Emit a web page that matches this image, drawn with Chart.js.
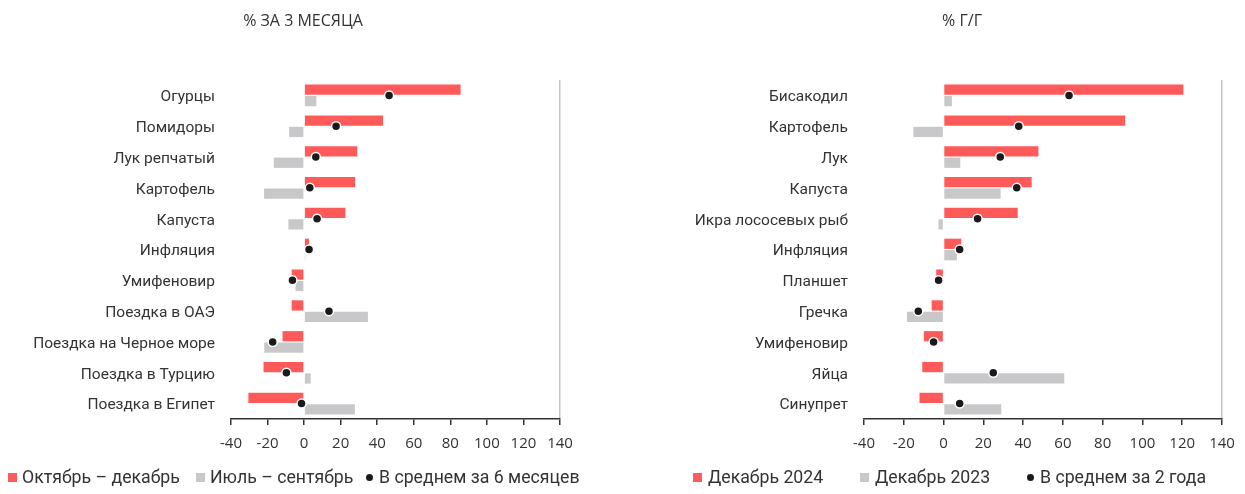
<!DOCTYPE html>
<html>
<head>
<meta charset="utf-8">
<script src="https://cdn.jsdelivr.net/npm/chart.js@4.4.1/dist/chart.umd.min.js"></script>
<style>
  html, body { margin: 0; padding: 0; background: #fff; }
  #wrap { position: relative; width: 1245px; height: 494px; overflow: hidden; }
  .panel { position: absolute; top: 0; height: 494px; }
  .title { position: absolute; top: 9px; font-family: "Open Sans", sans-serif; font-size: 16px; color: #333; white-space: nowrap; transform: translateX(-50%); }
  .leg { position: absolute; top: 466px; font-family: Roboto, sans-serif; font-size: 17.7px; color: #333; white-space: nowrap; line-height: 22px; }
  .sq { position: absolute; top: 473px; width: 9px; height: 9px; }
  .dot { position: absolute; top: 474px; width: 7px; height: 7px; border-radius: 50%; background: #1a1a1a; }
</style>
</head>
<body>
<div id="wrap">
  <div class="panel" style="left:0;width:622px;"><canvas id="c1" width="622" height="494"></canvas></div>
  <div class="panel" style="left:622px;width:623px;"><canvas id="c2" width="623" height="494"></canvas></div>
  <div class="title" style="left:303px;">% ЗА 3 МЕСЯЦА</div>
  <div class="title" style="left:962px;">% Г/Г</div>
  <div id="leg1"></div>
  <div id="leg2"></div>
</div>
<script>
// ---- Left panel data ----
const leftCategories = ['Огурцы','Помидоры','Лук репчатый','Картофель','Капуста','Инфляция','Умифеновир','Поездка в ОАЭ','Поездка на Черное море','Поездка в Турцию','Поездка в Египет'];
const leftOctDec = [85.6, 43.2, 29.1, 27.9, 22.6, 2.7, -6.8, -6.8, -11.8, -22.2, -30.5];
const leftJulSep = [6.7, -8.2, -16.6, -21.9, -8.6, 0.6, -4.7, 34.9, -21.8, 3.6, 27.8];
const leftAvg6m = [46.5, 17.5, 6.4, 3.1, 7.1, 2.7, -6.4, 13.6, -17.2, -9.7, -1.4];
const leftSeriesNames = ['Октябрь – декабрь', 'Июль – сентябрь', 'В среднем за 6 месяцев'];

// ---- Right panel data ----
const rightCategories = ['Бисакодил','Картофель','Лук','Капуста','Икра лососевых рыб','Инфляция','Планшет','Гречка','Умифеновир','Яйца','Синупрет'];
const rightDec2024 = [120.6, 91.3, 47.7, 44.3, 37.3, 8.9, -3.7, -6.0, -9.9, -10.7, -12.1];
const rightDec2023 = [4.2, -15.2, 8.4, 28.7, -2.5, 6.7, 0, -18.4, 0, 60.7, 29.0];
const rightAvg2y = [63.1, 37.8, 28.5, 36.8, 17.1, 8.1, -2.5, -12.7, -5.0, 25.0, 8.1];
const rightSeriesNames = ['Декабрь 2024', 'Декабрь 2023', 'В среднем за 2 года'];

// ---- Shared axis ticks ----
const xMin = -40, xMax = 140, xStep = 20;

const RED = '#ff5a5a', GRAY = '#c8c8ca', DOT = '#1a1a1a';

function makeChart(id, cats, s1, s2, avg, names, yWidth, padRight) {
  return new Chart(document.getElementById(id), {
    type: 'bar',
    data: {
      labels: cats,
      datasets: [
        { label: names[0], data: s1, backgroundColor: RED, borderWidth: 0, order: 1,
          categoryPercentage: 0.74, barPercentage: 0.9 },
        { label: names[1], data: s2, backgroundColor: GRAY, borderWidth: 0, order: 1,
          categoryPercentage: 0.74, barPercentage: 0.9 },
        { type: 'line', label: names[2], data: avg, showLine: false, order: 0,
          pointRadius: 4.5, pointHoverRadius: 4.5, pointBackgroundColor: DOT,
          pointBorderColor: '#ffffff', pointBorderWidth: 1.5, borderColor: DOT, backgroundColor: DOT }
      ]
    },
    options: {
      indexAxis: 'y',
      responsive: false,
      animation: false,
      layout: { padding: { top: 80, right: padRight, bottom: 35, left: 0 } },
      plugins: { legend: { display: false }, title: { display: false }, tooltip: { enabled: false } },
      scales: {
        x: {
          type: 'linear', min: xMin, max: xMax,
          afterFit: (s) => { s.height = 40; },
          ticks: { stepSize: xStep, color: '#333', padding: 10,
                   font: { family: 'Open Sans', size: 15 } },
          grid: {
            drawOnChartArea: true, drawTicks: true, tickLength: 6,
            color: (ctx) => (ctx.tick && ctx.tick.value === xMax) ? '#c4c4c4' : 'rgba(0,0,0,0)',
            tickColor: '#333', lineWidth: 1.5
          },
          border: { display: true, color: '#333', width: 1.5 }
        },
        y: {
          type: 'category',
          afterFit: (s) => { s.width = yWidth; },
          ticks: { color: '#333', padding: 8, labelOffset: 2, font: { family: 'Roboto', size: 15.5 } },
          grid: { display: false },
          border: { display: false }
        }
      }
    }
  });
}

makeChart('c1', leftCategories, leftOctDec, leftJulSep, leftAvg6m, leftSeriesNames, 231, 62);
makeChart('c2', rightCategories, rightDec2024, rightDec2023, rightAvg2y, rightSeriesNames, 242, 23);

// ---- HTML legends ----
function legend(el, items) {
  const host = document.getElementById(el);
  items.forEach(it => {
    const m = document.createElement('div');
    m.className = it.kind === 'dot' ? 'dot' : 'sq';
    m.style.left = it.mx + 'px';
    if (it.kind !== 'dot') m.style.background = it.color;
    host.appendChild(m);
    const t = document.createElement('div');
    t.className = 'leg';
    t.style.left = it.tx + 'px';
    t.textContent = it.text;
    host.appendChild(t);
  });
}
legend('leg1', [
  { kind: 'sq', color: RED, mx: 8, tx: 22, text: leftSeriesNames[0] },
  { kind: 'sq', color: GRAY, mx: 196, tx: 210, text: leftSeriesNames[1] },
  { kind: 'dot', mx: 366, tx: 379, text: leftSeriesNames[2] }
]);
legend('leg2', [
  { kind: 'sq', color: RED, mx: 693, tx: 708, text: rightSeriesNames[0] },
  { kind: 'sq', color: GRAY, mx: 860, tx: 875, text: rightSeriesNames[1] },
  { kind: 'dot', mx: 1027, tx: 1040, text: rightSeriesNames[2] }
]);
</script>
</body>
</html>
